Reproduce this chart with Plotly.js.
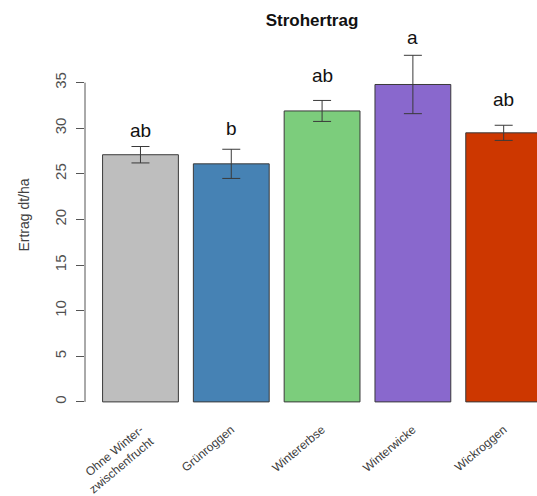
<!DOCTYPE html>
<html><head><meta charset="utf-8">
<script src="https://cdn.plot.ly/plotly-3.0.1.min.js"></script>
<style>html,body{margin:0;padding:0;background:#fff}#chart{width:537px;height:496px}</style>
</head><body><div id="chart"></div>
<script>
const categories = ["Ohne Winter-<br>zwischenfrucht", "Grünroggen", "Wintererbse", "Winterwicke", "Wickroggen"];
const means = [27.1, 26.1, 31.9, 34.8, 29.5];
const stdErr = [0.9, 1.6, 1.15, 3.2, 0.83];
const letters = ["ab", "b", "ab", "a", "ab"];
const letterY = [29.8, 30.0, 35.8, 39.9, 33.1];
const barColors = ["#BEBEBE", "#4682B4", "#7CCD7C", "#8968CD", "#CD3700"];
const yTicks = [0, 5, 10, 15, 20, 25, 30, 35];

const trace = {
  type: "bar",
  x: categories.map((c, i) => i),
  y: means,
  width: 0.835,
  marker: {color: barColors, line: {color: "#3a3a3a", width: 1}},
  error_y: {type: "data", array: stdErr, visible: true, color: "#3a3a3a", thickness: 1, width: 9},
  hoverinfo: "none"
};

const annotations = letters.map((t, i) => ({
  x: i, y: letterY[i], xref: "x", yref: "y", text: t, showarrow: false,
  font: {family: "Liberation Sans, Arial, sans-serif", size: 19, color: "#111"},
  yanchor: "middle"
}));

const layout = {
  width: 537, height: 496,
  margin: {l: 85, r: 0, t: 20, b: 86},
  paper_bgcolor: "#fff", plot_bgcolor: "#fff",
  showlegend: false,
  title: {text: "<b>Strohertrag</b>", x: 312 / 537, xref: "container", xanchor: "center",
          y: 1 - 20 / 496, yref: "container", yanchor: "middle",
          font: {family: "Liberation Sans, Arial, sans-serif", size: 17, color: "#111"}},
  xaxis: {
    range: [-0.611, 4.367], tickvals: categories.map((c, i) => i), ticktext: categories,
    tickangle: -40, showline: false, showgrid: false, zeroline: false,
    ticks: "outside", ticklen: 7, tickcolor: "rgba(0,0,0,0)",
    tickfont: {family: "Liberation Sans, Arial, sans-serif", size: 12, color: "#404040"}
  },
  yaxis: {
    range: [-0.888, 41.87], tickvals: yTicks, ticktext: yTicks.map(String),
    tickangle: -90, showline: false, showgrid: false, zeroline: false,
    ticks: "outside", ticklen: 8, tickcolor: "#555", tickwidth: 1, ticklabelstandoff: 4,
    tickfont: {family: "Liberation Sans, Arial, sans-serif", size: 15, color: "#505050"},
    title: {text: "Ertrag dt/ha", standoff: 19, font: {family: "Liberation Sans, Arial, sans-serif", size: 14, color: "#404040"}}
  },
  shapes: [{type: "line", xref: "paper", yref: "y", x0: 0, x1: 0, y0: yTicks[0], y1: yTicks[yTicks.length - 1],
            line: {color: "#555", width: 1}}],
  annotations: annotations
};

Plotly.newPlot("chart", [trace], layout, {displayModeBar: false, staticPlot: true});
</script></body></html>
